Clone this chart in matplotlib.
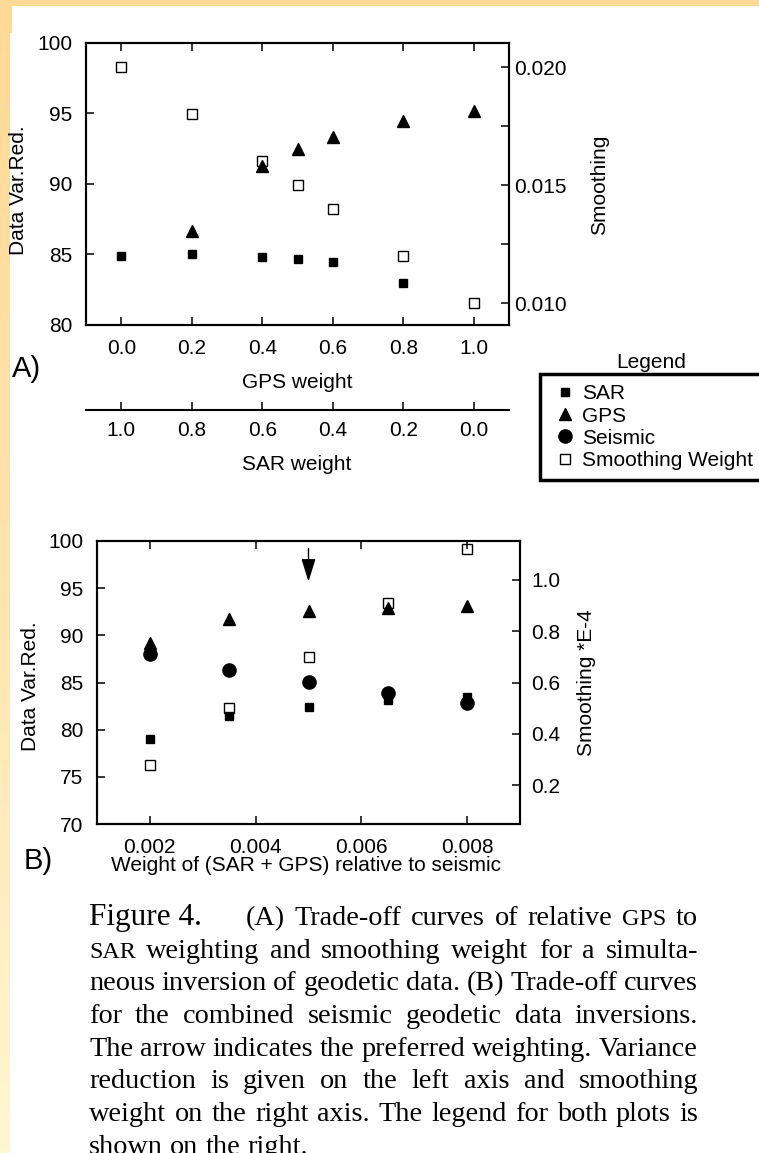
import numpy as np
import matplotlib
matplotlib.use("Agg")
import matplotlib.pyplot as plt
from matplotlib.patches import Rectangle
from matplotlib.colors import LinearSegmentedColormap
from matplotlib.ticker import FormatStrFormatter

plt.rcParams['font.family'] = ['Liberation Sans', 'DejaVu Sans']
plt.rcParams['font.size'] = 15

# ---- panel A: GPS vs SAR weighting ----
gps_weight = [0.0, 0.2, 0.4, 0.5, 0.6, 0.8, 1.0]
sar_a_x = [0.0, 0.2, 0.4, 0.5, 0.6, 0.8]
sar_a = [84.9, 85.0, 84.8, 84.7, 84.5, 83.0]
gps_a_x = [0.2, 0.4, 0.5, 0.6, 0.8, 1.0]
gps_a = [86.7, 91.3, 92.5, 93.3, 94.5, 95.2]
smooth_a = [0.0200, 0.0180, 0.0160, 0.0150, 0.0140, 0.0120, 0.0100]
ticks_a = [0.0, 0.2, 0.4, 0.6, 0.8, 1.0]

# ---- panel B: geodetic vs seismic weighting ----
rel_weight = [0.002, 0.0035, 0.005, 0.0065, 0.008]
sar_b = [79.0, 81.4, 82.4, 83.1, 83.5]
gps_b = [89.2, 91.7, 92.6, 92.9, 93.1]
seis_b = [88.0, 86.3, 85.1, 83.9, 82.8]
smooth_b = [0.28, 0.50, 0.70, 0.91, 1.12]
ticks_b = [0.002, 0.004, 0.006, 0.008]
preferred = 0.005

legend_labels = ['SAR', 'GPS', 'Seismic', 'Smoothing Weight']

caption = [
    "SAR weighting and smoothing weight for a simulta-",
    "neous inversion of geodetic data. (B) Trade-off curves",
    "for the combined seismic geodetic data inversions.",
    "The arrow indicates the preferred weighting. Variance",
    "reduction is given on the left axis and smoothing",
    "weight on the right axis. The legend for both plots is",
    "shown on the right.",
]

W, H = 759, 1153
fig = plt.figure(figsize=(W / 100, H / 100), dpi=100)

# page background (yellow slide border)
bg = fig.add_axes([0, 0, 1, 1], zorder=-10)
cm = LinearSegmentedColormap.from_list('edge', ['#FFD996', '#FFE4AE', '#FFF6D2'])
grad = cm(np.linspace(0, 1, 256))[:, None, :3]
bg.imshow(grad, extent=[0, 14, H, 0], aspect='auto')
bg.add_patch(Rectangle((0, 0), W, 6, color='#FFD996', lw=0))
bg.add_patch(Rectangle((12, 6), W, 28, color='white', lw=0))
bg.add_patch(Rectangle((10, 33), W, H, color='white', lw=0))
bg.set_xlim(0, W)
bg.set_ylim(H, 0)
bg.axis('off')


def px_axes(left, top, right, bottom):
    return fig.add_axes([left / W, 1 - bottom / H, (right - left) / W, (bottom - top) / H])


def style(ax, lpad):
    for s in ax.spines.values():
        s.set_linewidth(1.5)
    ax.tick_params(direction='in', length=6, width=1.1, top=True, right=False,
                   pad=lpad)


sq = dict(ls='none', marker='s', ms=6, color='k')
tri = dict(ls='none', marker='^', ms=8.5, color='k')
dot = dict(ls='none', marker='o', ms=9.5, color='k')
osq = dict(ls='none', marker='s', ms=7, mfc='none', mec='k', mew=1.0)

# ---------------- A ----------------
axA = px_axes(86, 43, 509, 325)
axA.plot(sar_a_x, sar_a, **sq)
axA.plot(gps_a_x, gps_a, **tri)
twA = axA.twinx()
twA.plot(gps_weight, smooth_a, **osq)
axA.set_xlim(-0.1, 1.1)
axA.set_ylim(80, 100)
axA.set_yticks([80, 85, 90, 95, 100])
axA.set_xticks(ticks_a)
axA.xaxis.set_major_formatter(FormatStrFormatter('%.1f'))
style(axA, 10)
twA.set_ylim(0.00907, 0.02102)
twA.set_yticks([0.010, 0.0125, 0.015, 0.0175, 0.020])
twA.set_yticklabels(['0.010', '', '0.015', '', '0.020'])
twA.tick_params(direction='in', length=6, width=1.1, pad=4)
for s in twA.spines.values():
    s.set_linewidth(1.5)

secA = axA.secondary_xaxis(-0.301, functions=(lambda g: 1 - g, lambda s: 1 - s))
secA.set_xticks([1.0, 0.8, 0.6, 0.4, 0.2, 0.0])
secA.xaxis.set_major_formatter(FormatStrFormatter('%.1f'))
secA.tick_params(direction='in', length=6, width=1.1, pad=8)
secA.spines['bottom'].set_linewidth(1.5)

bg.text(19, 190, 'Data Var.Red.', rotation=90, ha='center', va='center')
bg.text(600, 185, 'Smoothing', rotation=90, ha='center', va='center')
bg.text(297, 388, 'GPS weight', ha='center', va='baseline')
bg.text(297, 470, 'SAR weight', ha='center', va='baseline')
bg.text(12, 377, 'A)', fontsize=21, ha='left', va='baseline')

# ---------------- B ----------------
axB = px_axes(97, 541, 520, 824)
hs = axB.plot(rel_weight, sar_b, **sq)
hg = axB.plot(rel_weight, gps_b, **tri)
hq = axB.plot(rel_weight, seis_b, **dot)
twB = axB.twinx()
ho = twB.plot(rel_weight, smooth_b, **osq)
axB.set_xlim(0.001, 0.009)
axB.set_ylim(70, 100)
axB.set_yticks([70, 75, 80, 85, 90, 95, 100])
axB.set_xticks(ticks_b)
axB.xaxis.set_major_formatter(FormatStrFormatter('%.3f'))
style(axB, 10)
twB.set_ylim(0.05, 1.15)
twB.set_yticks([0.2, 0.4, 0.6, 0.8, 1.0])
twB.yaxis.set_major_formatter(FormatStrFormatter('%.1f'))
twB.tick_params(direction='in', length=6, width=1.1, pad=8)
for s in twB.spines.values():
    s.set_linewidth(1.5)

axB.annotate('', xy=(preferred, 95.7), xytext=(preferred, 99.2),
             arrowprops=dict(arrowstyle='-|>,head_length=0.7,head_width=0.22',
                             color='k', lw=1, mutation_scale=20,
                             shrinkA=0, shrinkB=0))

bg.text(30, 686, 'Data Var.Red.', rotation=90, ha='center', va='center')
bg.text(587, 683, 'Smoothing *E-4', rotation=90, ha='center', va='center')
bg.text(306, 871, 'Weight of (SAR + GPS) relative to seismic', ha='center', va='baseline')
bg.text(24, 869, 'B)', fontsize=21, ha='left', va='baseline')

# ---------------- legend ----------------
handles = [hs[0], hg[0], hq[0], ho[0]]
leg = fig.legend(handles, legend_labels, loc='upper left',
                 bbox_to_anchor=(540 / W, 1 - 374 / H), frameon=True,
                 fancybox=False, edgecolor='k', framealpha=1, borderpad=0.5,
                 handlelength=1.4, handletextpad=0.1, labelspacing=0.15,
                 borderaxespad=0, fontsize=15)
leg.get_frame().set_linewidth(2.5)
bg.text(651, 362, 'Legend', ha='center', va='center')

# ---------------- caption (justified) ----------------
renderer = fig.canvas.get_renderer()
cap_fs = 20.3
x_left, x_right = 89, 698
base0, step = 925, 32.7


def put_words(words, x0, x1, y, justify=True):
    ts = []
    for w in words:
        size = cap_fs * 0.85 if w in ('GPS', 'SAR') else cap_fs
        ts.append(bg.text(0, y, w, fontsize=size, family='Liberation Serif',
                          ha='left', va='baseline'))
    widths = [t.get_window_extent(renderer).width for t in ts]
    if justify and len(ts) > 1:
        gap = max((x1 - x0 - sum(widths)) / (len(ts) - 1), 3)
    else:
        gap = 0.25 * cap_fs * 100 / 72
    x = x0
    for t, wd in zip(ts, widths):
        t.set_x(x)
        x += wd + gap


bg.text(x_left, base0, 'Figure 4.', fontsize=22.5, family='Liberation Serif',
        ha='left', va='baseline')
put_words("(A) Trade-off curves of relative GPS to".split(), 246, x_right, base0)
for i, line in enumerate(caption):
    put_words(line.split(), x_left, x_right, base0 + (i + 1) * step,
              justify=(i < len(caption) - 1))

fig.savefig('out.png', dpi=100)
